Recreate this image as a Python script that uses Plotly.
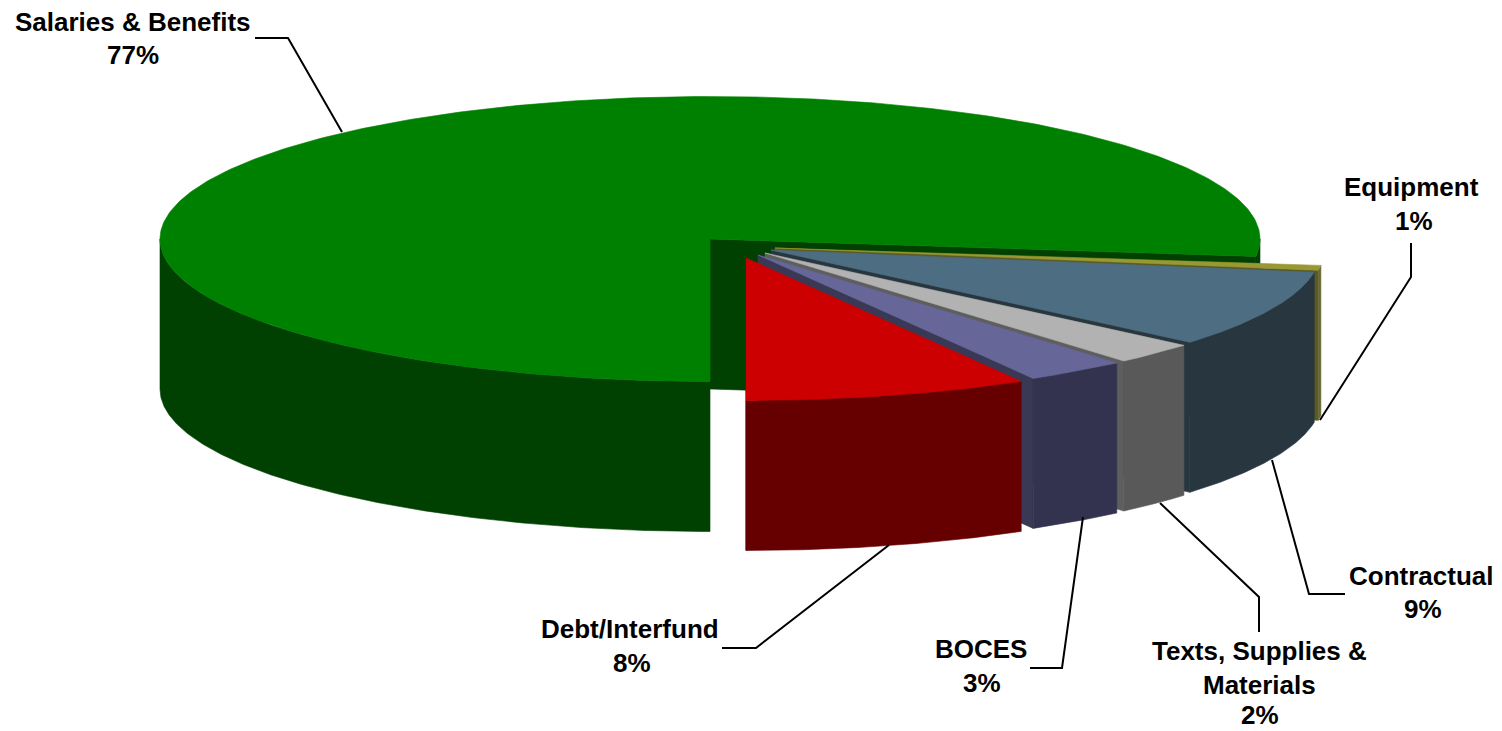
import numpy as np
import plotly.graph_objects as go

# Data (shares in percent, clockwise from 6 o'clock)
categories = ["Salaries & Benefits", "Equipment", "Contractual",
              "Texts, Supplies & Materials", "BOCES", "Debt/Interfund"]
shares = [76.95, 0.55, 8.72, 2.47, 2.97, 8.34]
percent_labels = ["77%", "1%", "9%", "2%", "3%", "8%"]

# Styles
top_colors = ["#008000", "#999933", "#4D6D82", "#B2B2B2", "#666699", "#CC0000"]
side_colors = ["#004000", "#666633", "#28373F", "#595959", "#333350", "#660000"]
face_colors = ["#004000", "#5A5A25", "#28373F", "#5E5E5E", "#393955", "#660000"]
apex_x = [710, 775, 771, 765, 758, 746]
apex_y = [239, 248, 250, 253, 255, 258]
RX, RY, DEPTH = 550, 142.5, 150
START_DEG = 180

# Label layout: lines, centre x, y of each line
label_lines = [["Salaries & Benefits"], ["Equipment"], ["Contractual"],
               ["Texts, Supplies &", "Materials"], ["BOCES"], ["Debt/Interfund"]]
label_x = [133, 1411, 1421, 1259, 981, 630]
pct_x = [133, 1414, 1423, 1260, 982, 632]
label_y = [[22, 55], [187, 221], [576, 609], [651, 685, 715], [649, 683], [629, 663]]
leaders = [
    [(255, 38), (288, 38), (342, 132)],
    [(1411, 243), (1411, 277), (1320, 420)],
    [(1345, 594), (1309, 594), (1272, 460)],
    [(1259, 632), (1259, 597), (1160, 503)],
    [(1030, 668), (1062, 668), (1083, 517)],
    [(722, 648), (756, 648), (889, 545)],
]


def arc(cx, cy, a, b, n=200):
    t = np.radians(np.linspace(a, b, n))
    return cx + RX * np.sin(t), cy - RY * np.cos(t)


fig = go.Figure()


def poly(x, y, color, name):
    x, y = np.append(x, x[0]), np.append(y, y[0])
    fig.add_trace(go.Scatter(x=x, y=y, mode="lines", fill="toself", fillcolor=color,
                             line=dict(color=color, width=0.6), name=name,
                             hoverinfo="name", showlegend=False))


def wall(cx, cy, a, b, color, name):
    x, y = arc(cx, cy, a, b)
    poly(np.concatenate([x, x[::-1]]), np.concatenate([y, y[::-1] + DEPTH]), color, name)


def end_face(cx, cy, ang, color, name):
    x, y = arc(cx, cy, ang, ang, 1)
    poly(np.array([cx, x[0], x[0], cx]), np.array([cy, y[0], y[0] + DEPTH, cy + DEPTH]), color, name)


def top(cx, cy, a, b, color, name):
    x, y = arc(cx, cy, a, b, 400)
    poly(np.concatenate([[cx], x]), np.concatenate([[cy], y]), color, name)


edges = START_DEG + np.cumsum([0] + [s * 3.6 for s in shares])

# Main slice (back of the drawing)
a0, b0 = edges[0], edges[1]
wall(apex_x[0], apex_y[0], a0, 270, side_colors[0], categories[0])
wall(apex_x[0], apex_y[0], 450, b0, side_colors[0], categories[0])
end_face(apex_x[0], apex_y[0], b0, face_colors[0], categories[0])
top(apex_x[0], apex_y[0], a0, b0, top_colors[0], categories[0])

# Exploded slices, back to front
for i in range(1, len(shares)):
    a, b = edges[i] - 360, edges[i + 1] - 360
    end_face(apex_x[i], apex_y[i], b, face_colors[i], categories[i])
    wall(apex_x[i], apex_y[i], a, b, side_colors[i], categories[i])
    top(apex_x[i], apex_y[i], a, b, top_colors[i], categories[i])

# Leader lines
for pts in leaders:
    fig.add_trace(go.Scatter(x=[p[0] for p in pts], y=[p[1] for p in pts], mode="lines",
                             line=dict(color="black", width=2), hoverinfo="skip", showlegend=False))

# Labels
annotations = []
for lines, pct, lx, px, ys in zip(label_lines, percent_labels, label_x, pct_x, label_y):
    xs = [lx] * len(lines) + [px]
    for txt, tx, ly in zip(lines + [pct], xs, ys):
        annotations.append(dict(x=tx, y=ly, xref="x", yref="y", text=txt, showarrow=False,
                                xanchor="center", yanchor="middle",
                                font=dict(family="Liberation Sans", size=26, color="black",
                                          weight="bold")))

fig.update_layout(
    width=1502, height=731, margin=dict(l=0, r=0, t=0, b=0),
    paper_bgcolor="white", plot_bgcolor="white", showlegend=False,
    xaxis=dict(range=[0, 1502], visible=False, fixedrange=True),
    yaxis=dict(range=[731, 0], visible=False, fixedrange=True),
    annotations=annotations,
)
fig.write_html("out.html", config={"displayModeBar": False},
               post_script="document.body.style.margin='0';document.body.style.overflow='hidden';")
